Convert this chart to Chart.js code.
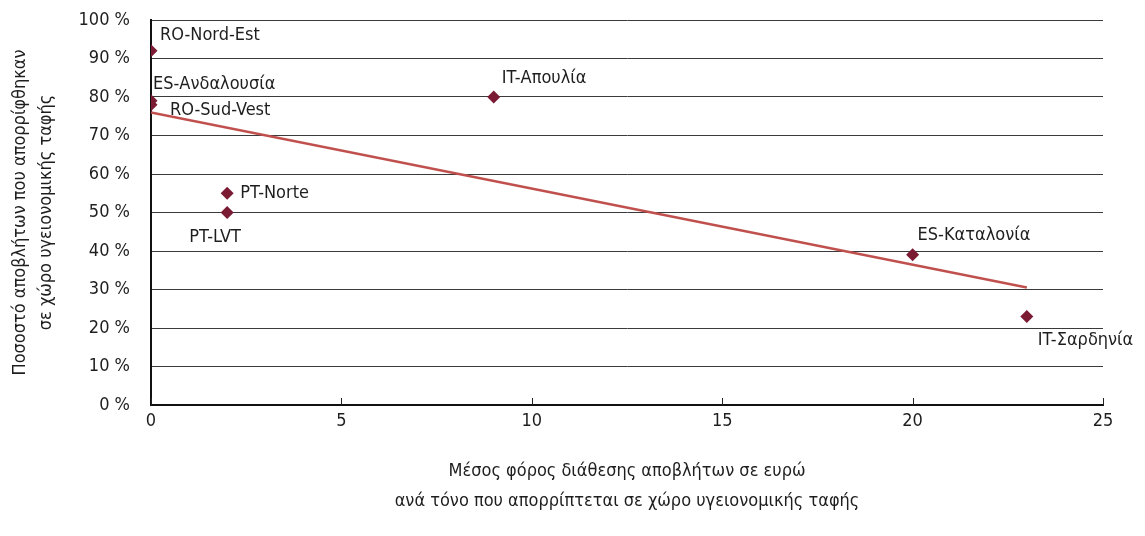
<!DOCTYPE html>
<html lang="el">
<head>
    <meta charset="UTF-8">
    <title>Ποσοστό αποβλήτων σε χώρο υγειονομικής ταφής</title>
    <script src="https://cdn.jsdelivr.net/npm/chart.js"></script>
    <style>
        body { margin: 0; background: #fff; }
        #wrap { width: 1145px; height: 536px; }
    </style>
</head>
<body>
<div id="wrap"><canvas id="scatterChart"></canvas></div>

<script>
    // Δεδομένα
    var regions = ['RO-Nord-Est', 'ES-Ανδαλουσία', 'RO-Sud-Vest', 'IT-Απουλία', 'PT-Norte', 'PT-LVT', 'ES-Καταλονία', 'IT-Σαρδηνία'];
    var taxEuro = [0, 0, 0, 9, 2, 2, 20, 23];
    var landfillPct = [92, 79, 78, 80, 55, 50, 39, 23];
    var trendX = [0, 23];
    var trendY = [76, 30.5];
    var xTicks = [0, 5, 10, 15, 20, 25];

    // θέση ετικετών σε pixel, σε σχέση με το σημείο
    var labelOffsets = [[9, -15], [2, -17], [19, 6], [8, -19], [13, 0], [-38, 25], [5, -20], [11, 24]];

    var FONT = "'Liberation Sans Narrow', 'DejaVu Sans Condensed', sans-serif";
    var FS = 18;

    var points = taxEuro.map(function (x, i) { return { x: x, y: landfillPct[i] }; });
    var trend = trendX.map(function (x, i) { return { x: x, y: trendY[i] }; });

    // ετικέτες σημείων + μικρές γραμμές υποδιαίρεσης στον άξονα x
    var labelsPlugin = {
        id: 'pointLabels',
        afterDatasetsDraw: function (chart) {
            var ctx = chart.ctx;
            var meta = chart.getDatasetMeta(1);
            ctx.save();
            ctx.font = FS + 'px ' + FONT;
            ctx.fillStyle = '#1e1e1e';
            ctx.textAlign = 'left';
            ctx.textBaseline = 'middle';
            meta.data.forEach(function (el, i) {
                ctx.fillText(regions[i], el.x + labelOffsets[i][0], el.y + labelOffsets[i][1]);
            });
            var xs = chart.scales.x;
            var bottom = chart.chartArea.bottom;
            ctx.strokeStyle = '#222';
            ctx.lineWidth = 1;
            xTicks.forEach(function (v) {
                var px = Math.round(xs.getPixelForValue(v)) + 0.5;
                ctx.beginPath();
                ctx.moveTo(px, bottom);
                ctx.lineTo(px, bottom - 7);
                ctx.stroke();
            });
            ctx.restore();
        }
    };

    var ctx = document.getElementById('scatterChart').getContext('2d');
    var chart = new Chart(ctx, {
        type: 'scatter',
        data: {
            datasets: [{
                label: 'Τάση',
                data: trend,
                showLine: true,
                borderColor: '#C0504D',
                borderWidth: 2.5,
                pointRadius: 0,
                fill: false
            }, {
                label: 'Περιφέρειες',
                data: points,
                pointStyle: 'rectRot',
                pointRadius: 6.5,
                backgroundColor: '#7B1A33',
                borderColor: '#7B1A33',
                borderWidth: 0
            }]
        },
        options: {
            responsive: true,
            maintainAspectRatio: false,
            animation: false,
            layout: { padding: { top: 20, right: 42, left: 0, bottom: 0 } },
            plugins: {
                legend: { display: false },
                tooltip: { enabled: false }
            },
            scales: {
                x: {
                    type: 'linear',
                    min: 0,
                    max: 25,
                    afterFit: function (scale) { scale.height = 131; },
                    afterBuildTicks: function (scale) {
                        scale.ticks = xTicks.map(function (v) { return { value: v }; });
                    },
                    grid: { display: true, drawOnChartArea: false, drawTicks: false },
                    border: { display: true, color: '#111', width: 2 },
                    ticks: {
                        padding: 6,
                        color: '#1e1e1e',
                        font: { family: FONT, size: FS }
                    },
                    title: {
                        display: true,
                        text: ['Μέσος φόρος διάθεσης αποβλήτων σε ευρώ', 'ανά τόνο που απορρίπτεται σε χώρο υγειονομικής ταφής'],
                        color: '#1e1e1e',
                        font: { family: FONT, size: FS, lineHeight: 1.7 },
                        padding: { top: 0, bottom: 19 }
                    }
                },
                y: {
                    min: 0,
                    max: 100,
                    afterFit: function (scale) {
                        scale.width = 151;
                        scale.paddingTop = 0;
                        scale.paddingBottom = 0;
                    },
                    grid: { color: '#3a3a3a', lineWidth: 1, drawTicks: false },
                    border: { display: true, color: '#111', width: 2 },
                    ticks: {
                        stepSize: 10,
                        padding: 21,
                        color: '#1e1e1e',
                        font: { family: FONT, size: FS },
                        callback: function (v) { return v + ' %'; }
                    },
                    title: {
                        display: true,
                        text: ['Ποσοστό αποβλήτων που απορρίφθηκαν', 'σε χώρο υγειονομικής ταφής'],
                        color: '#1e1e1e',
                        font: { family: FONT, size: FS, lineHeight: 1.45 },
                        padding: { top: 7, bottom: 0 }
                    }
                }
            }
        },
        plugins: [labelsPlugin]
    });
</script>
</body>
</html>
